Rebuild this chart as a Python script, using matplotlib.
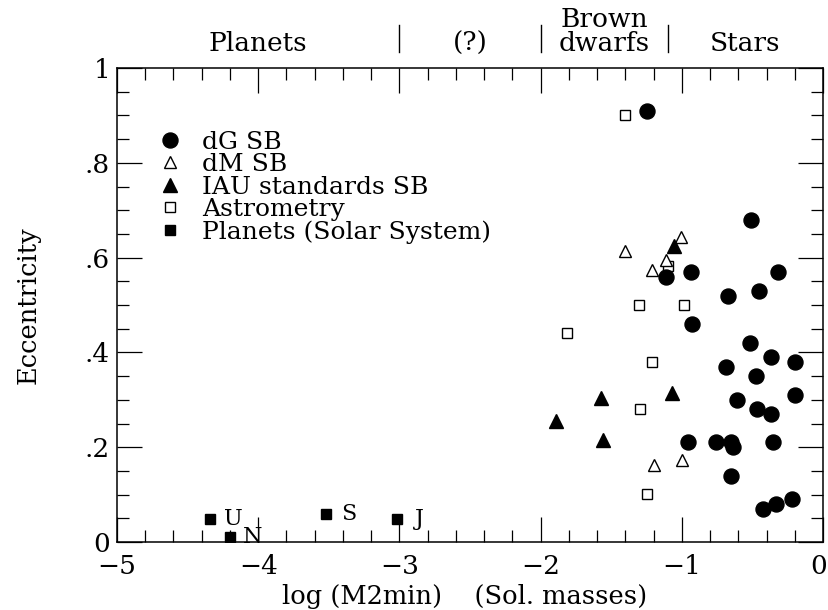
import matplotlib
matplotlib.use('Agg')
import matplotlib.pyplot as plt
import matplotlib.transforms as mtransforms
from matplotlib.ticker import MultipleLocator

plt.rcParams['font.family'] = ['DejaVu Serif']

# dG spectroscopic binaries
dg_logm = [-1.25, -0.51, -0.935, -0.32, -1.114, -0.453, -0.67, -0.925, -0.52,
           -0.37, -0.20, -0.69, -0.477, -0.20, -0.611, -0.47, -0.368, -0.958,
           -0.76, -0.65, -0.64, -0.354, -0.65, -0.222, -0.335, -0.423]
dg_ecc = [0.91, 0.68, 0.57, 0.57, 0.56, 0.53, 0.52, 0.46, 0.42,
          0.39, 0.38, 0.37, 0.35, 0.31, 0.30, 0.28, 0.27, 0.21,
          0.21, 0.21, 0.20, 0.21, 0.14, 0.09, 0.08, 0.07]

# dM spectroscopic binaries
dm_logm = [-1.006, -1.40, -1.114, -1.208, -1.195, -1.001]
dm_ecc = [0.643, 0.613, 0.594, 0.573, 0.162, 0.174]

# IAU radial velocity standards
iau_logm = [-1.055, -1.891, -1.575, -1.56, -1.068]
iau_ecc = [0.624, 0.255, 0.304, 0.215, 0.315]

# astrometric companions
ast_logm = [-1.402, -1.10, -1.30, -0.984, -1.815, -1.213, -1.296, -1.244]
ast_ecc = [0.901, 0.583, 0.50, 0.50, 0.441, 0.38, 0.281, 0.101]

# solar system giants
planet_names = ['J', 'S', 'U', 'N']
planet_logm = [-3.02, -3.52, -4.34, -4.20]
planet_ecc = [0.048, 0.060, 0.049, 0.010]

# mass regimes along the top
region_edges = [-3.0, -2.0, -1.1]
region_names = ['Planets', '(?)', 'Brown\ndwarfs', 'Stars']
region_centres = [-4.0, -2.5, -1.55, -0.55]

xticks = [-5, -4, -3, -2, -1, 0]
xtick_labels = ['\u22125', '\u22124', '\u22123', '\u22122', '\u22121', '0']
yticks = [0, 0.2, 0.4, 0.6, 0.8, 1.0]
ytick_labels = ['0', '.2', '.4', '.6', '.8', '1']

fig = plt.figure(figsize=(8.29, 6.10), dpi=100)
ax = fig.add_axes([117 / 829, 68 / 610, 706 / 829, 474 / 610])

ax.plot(dg_logm, dg_ecc, 'o', color='black', ms=10.8, zorder=5, label='dG SB')
ax.plot(dm_logm, dm_ecc, '^', mfc='white', mec='black', mew=1.0, ms=8.6,
        zorder=3, label='dM SB')
ax.plot(iau_logm, iau_ecc, '^', color='black', ms=9.4, zorder=4,
        label='IAU standards SB')
ax.plot(ast_logm, ast_ecc, 's', mfc='white', mec='black', mew=1.0, ms=7.6,
        zorder=2, label='Astrometry')
ax.plot(planet_logm, planet_ecc, 's', color='black', ms=7.4, zorder=4,
        label='Planets (Solar System)')

for name, x, y in zip(planet_names, planet_logm, planet_ecc):
    ax.annotate(name, (x, y), xytext=(16.5, 0), textcoords='offset points',
                ha='center', va='center', fontsize=16, zorder=6)

ax.set_xlim(-5, 0)
ax.set_ylim(0, 1)
ax.set_xticks(xticks, labels=xtick_labels, fontsize=19)
ax.set_yticks(yticks, labels=ytick_labels, fontsize=19)
ax.xaxis.set_minor_locator(MultipleLocator(0.2))
ax.yaxis.set_minor_locator(MultipleLocator(0.05))
ax.tick_params(which='both', direction='in', top=True, right=True, width=0.9)
ax.tick_params(which='major', length=18)
ax.tick_params(which='minor', length=8.6)
ax.tick_params(axis='x', pad=9)
ax.tick_params(axis='y', pad=5)
for sp in ax.spines.values():
    sp.set_linewidth(1.1)

# keep the "0" at the right end inside the canvas
last = ax.get_xticklabels()[-1]
last.set_transform(last.get_transform()
                   + mtransforms.ScaledTranslation(-3 / 72, 0, fig.dpi_scale_trans))

ax.set_xlabel('log (M2min)    (Sol. masses)', fontsize=18.5)
ax.xaxis.label.set_va('center')
ax.xaxis.set_label_coords(0.493, -0.116)
ax.set_ylabel('Eccentricity', fontsize=18.5)
ax.yaxis.label.set_va('center')
ax.yaxis.set_label_coords(-0.126, 0.5)

# region separators and names above the frame
for xe in region_edges:
    ax.plot([xe, xe], [1.034, 1.091], color='black', lw=1.0, clip_on=False)
for name, xc in zip(region_names, region_centres):
    ax.text(xc, 1.036, name, ha='center', va='baseline', fontsize=19,
            linespacing=0.95)

ax.legend(loc='upper left', bbox_to_anchor=(0.058, 0.868), frameon=False,
          fontsize=18, handlelength=1.0, handletextpad=0.78, labelspacing=-0.02,
          borderpad=0, borderaxespad=0, numpoints=1)

fig.savefig('out.png', dpi=100)
